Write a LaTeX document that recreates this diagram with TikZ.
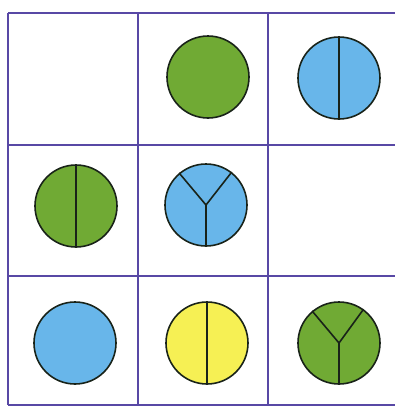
\documentclass[tikz,border=0pt]{standalone}
\definecolor{gridc}{RGB}{88,72,165}
\definecolor{leaf}{RGB}{112,170,52}
\definecolor{sky}{RGB}{104,182,234}
\definecolor{lemon}{RGB}{246,240,84}
\definecolor{ink}{RGB}{25,35,25}
\begin{document}
\begin{tikzpicture}[x=1pt,y=-1pt,
  gridline/.style={draw=gridc,line width=1.8pt},
  disc/.style={circle,draw=ink,line width=1.6pt,inner sep=0pt,minimum size=82pt},
  cut/.style={draw=ink,line width=1.6pt}]
\fill[white] (0,0) rectangle (395,408);
\useasboundingbox (0,0) rectangle (395,408);
% grid
\foreach \x in {8,138,268,398} \draw[gridline] (\x,13) -- (\x,405);
\foreach \y in {13,145,276,405} \draw[gridline] (8,\y) -- (398,\y);
% row 1
\node[disc,fill=leaf] (a2) at (208,77) {};
\node[disc,fill=sky] (a3) at (339,78) {};
\draw[cut] (a3.north) -- (a3.south);
% row 2
\node[disc,fill=leaf] (b1) at (76,206) {};
\draw[cut] (b1.north) -- (b1.south);
\node[disc,fill=sky] (b2) at (206,205) {};
\draw[cut] (b2.center) -- (b2.south) (b2.center) -- (b2.130) (b2.center) -- (b2.52);
% row 3
\node[disc,fill=sky] (c1) at (75,343) {};
\node[disc,fill=lemon] (c2) at (207,343) {};
\draw[cut] (c2.north) -- (c2.south);
\node[disc,fill=leaf] (c3) at (339,343) {};
\draw[cut] (c3.center) -- (c3.south) (c3.center) -- (c3.130) (c3.center) -- (c3.54);
\end{tikzpicture}
\end{document}
